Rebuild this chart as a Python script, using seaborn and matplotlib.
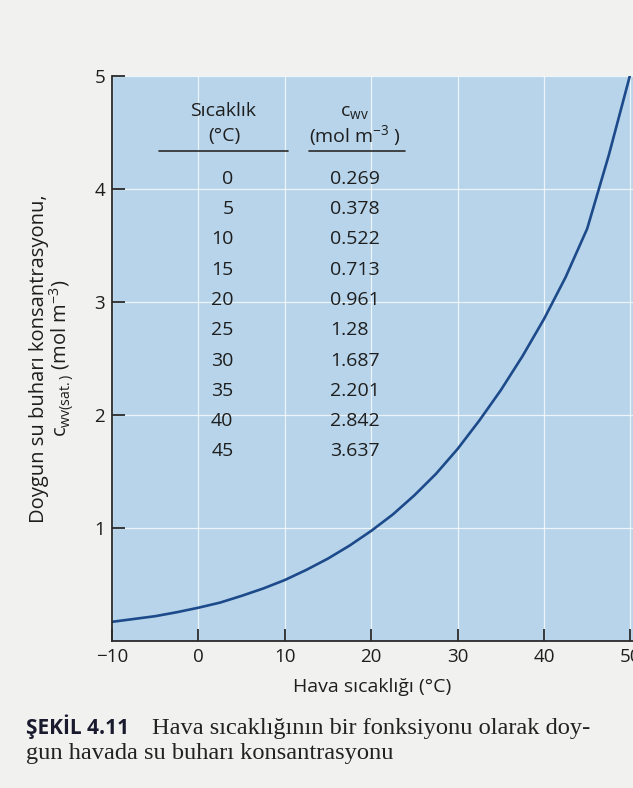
import numpy as np
import pandas as pd
import seaborn as sns
import matplotlib.pyplot as plt

# table values printed in the figure
temps = [0, 5, 10, 15, 20, 25, 30, 35, 40, 45]
cwv = [0.269, 0.378, 0.522, 0.713, 0.961, 1.28, 1.687, 2.201, 2.842, 3.637]

# curve, every 2.5 degC
curve_t = [-10, -7.5, -5, -2.5, 0, 2.5, 5, 7.5, 10, 12.5, 15, 17.5, 20, 22.5,
           25, 27.5, 30, 32.5, 35, 37.5, 40, 42.5, 45, 47.5, 50]
curve_c = [0.17, 0.195, 0.22, 0.255, 0.295, 0.34, 0.40, 0.465, 0.54, 0.63,
           0.73, 0.845, 0.975, 1.12, 1.29, 1.48, 1.70, 1.95, 2.22, 2.52,
           2.85, 3.22, 3.65, 4.3, 5.02]

sns.set_style("ticks")
plt.rcParams['font.family'] = ['Open Sans', 'DejaVu Sans']
plt.rcParams['mathtext.fontset'] = 'custom'
plt.rcParams['mathtext.rm'] = 'Open Sans'
plt.rcParams['mathtext.it'] = 'Open Sans'

df = pd.DataFrame({"t": curve_t, "c": curve_c})

fig = plt.figure(figsize=(6.33, 7.88), dpi=100)
fig.patch.set_facecolor("#f1f1ef")
ax = fig.add_axes([0.177, 0.1865, 0.823, 0.717])
ax.set_facecolor("#b7d4ea")

sns.lineplot(data=df, x="t", y="c", ax=ax, color="#1d4a8a", linewidth=1.9)

ax.set_xlim(-10, 50.3)
ax.set_ylim(0, 5)
ax.set_xticks([-10, 0, 10, 20, 30, 40, 50])
ax.set_xticklabels(["\u221210", "0", "10", "20", "30", "40", "50"])
ax.set_yticks([1, 2, 3, 4, 5])
ax.grid(True, color="white", linewidth=0.9, alpha=0.75)
ax.set_axisbelow(True)
for s in ["top", "right"]:
    ax.spines[s].set_visible(False)
for s in ["left", "bottom"]:
    ax.spines[s].set_color("#2a2a2a")
    ax.spines[s].set_linewidth(1.3)
ax.tick_params(direction="in", length=9, width=1.3, color="#2a2a2a",
               labelsize=13.5, labelcolor="#1e1e1e", pad=5)

ax.set_xlabel("Hava s\u0131cakl\u0131\u011f\u0131 (\u00b0C)", fontsize=14, color="#1e1e1e", labelpad=9)
ax.set_ylabel("Doygun su buhar\u0131 konsantrasyonu,\n$\\mathrm{c_{wv(sat.)}}$ (mol m$^{-3}$)",
              fontsize=14.5, color="#1e1e1e", labelpad=13, linespacing=0.95)

# table inside the plot (axes fraction coords)
tk = dict(transform=ax.transAxes, fontsize=14, color="#1e1e1e")
ax.text(0.213, 0.938, "S\u0131cakl\u0131k", ha="center", va="center", **tk)
ax.text(0.215, 0.894, "(\u00b0C)", ha="center", va="center", **tk)
ax.text(0.465, 0.936, "$\\mathrm{c_{wv}}$", ha="center", va="center", **tk)
ax.text(0.467, 0.894, "(mol m$^{-3}$ )", ha="center", va="center", **tk)
ax.plot([0.091, 0.337], [0.868, 0.868], transform=ax.transAxes, color="#2a2a2a", lw=1.2)
ax.plot([0.379, 0.563], [0.868, 0.868], transform=ax.transAxes, color="#2a2a2a", lw=1.2)
for i, (t, c) in enumerate(zip(temps, cwv)):
    yy = 0.818 - i * 0.0536
    ax.text(0.233, yy, str(t), ha="right", va="center", **tk)
    ax.text(0.419, yy, str(c), ha="left", va="center", **tk)

# caption
fig.text(0.041, 1 - 734 / 788, "\u015eEK\u0130L 4.11", fontsize=15, fontweight="bold",
         color="#1a1a2e", va="baseline")
fig.text(0.240, 1 - 734 / 788, "Hava s\u0131cakl\u0131\u011f\u0131n\u0131n bir fonksiyonu olarak doy-",
         fontsize=17.6, family="Liberation Serif", color="#222222", va="baseline")
fig.text(0.041, 1 - 759 / 788, "gun havada su buhar\u0131 konsantrasyonu",
         fontsize=17.6, family="Liberation Serif", color="#222222", va="baseline")

fig.savefig("out.png", dpi=100, facecolor=fig.get_facecolor())
